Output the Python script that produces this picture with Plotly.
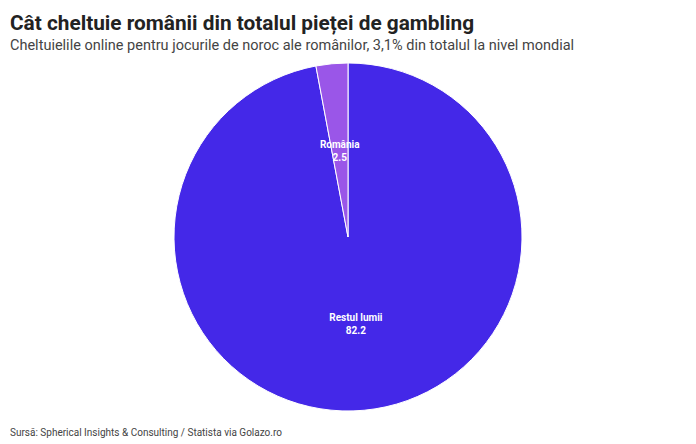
import plotly.graph_objects as go

labels = ["Restul lumii", "România"]
values = [82.2, 2.5]
colors = ["#4428E8", "#9A56E8"]

title = "Cât cheltuie românii din totalul pieței de gambling"
subtitle = "Cheltuielile online pentru jocurile de noroc ale românilor, 3,1% din totalul la nivel mondial"
source = "Sursă: Spherical Insights & Consulting / Statista via Golazo.ro"

label_tpl = "<b>%{label}</b><br><b>%{value}</b>"

fig = go.Figure()
# main pie (label for the large slice)
fig.add_trace(go.Pie(
    labels=labels,
    values=values,
    marker=dict(colors=colors, line=dict(color="white", width=1)),
    texttemplate=[label_tpl, ""],
    textposition="inside",
    insidetextorientation="horizontal",
    textfont=dict(family="Roboto", size=10, color="white"),
    sort=False,
    direction="clockwise",
    rotation=0,
    showlegend=False,
    hoverinfo="label+value",
))
# transparent inner copy used only to place the small slice's label at mid-radius
fig.add_trace(go.Pie(
    labels=labels,
    values=values,
    marker=dict(colors=["rgba(0,0,0,0)", "rgba(0,0,0,0)"], line=dict(width=0)),
    texttemplate=["", label_tpl],
    textposition="inside",
    insidetextorientation="horizontal",
    textfont=dict(family="Roboto", size=10, color="white"),
    sort=False,
    direction="clockwise",
    rotation=0,
    showlegend=False,
    hoverinfo="skip",
    domain=dict(x=[0.365, 0.635], y=[0.23, 0.77]),
))

fig.update_layout(
    width=696, height=444,
    margin=dict(l=0, r=0, t=63, b=33),
    paper_bgcolor="white",
    plot_bgcolor="white",
    uniformtext=dict(minsize=10, mode="show"),
    annotations=[
        dict(text="<b>" + title + "</b>", x=0, y=1, xref="paper", yref="paper",
             xanchor="left", yanchor="top", showarrow=False, xshift=8, yshift=54,
             font=dict(family="Roboto", size=20.8, color="#222222")),
        dict(text=subtitle, x=0, y=1, xref="paper", yref="paper",
             xanchor="left", yanchor="top", showarrow=False, xshift=8, yshift=28,
             font=dict(family="Roboto", size=14.5, color="#444444")),
        dict(text=source, x=0, y=0, xref="paper", yref="paper",
             xanchor="left", yanchor="top", showarrow=False, xshift=8, yshift=-14,
             font=dict(family="Roboto", size=10, color="#444444")),
    ],
)

fig.write_html("out.html", config={"displayModeBar": False},
               post_script="document.body.style.margin='0';")
